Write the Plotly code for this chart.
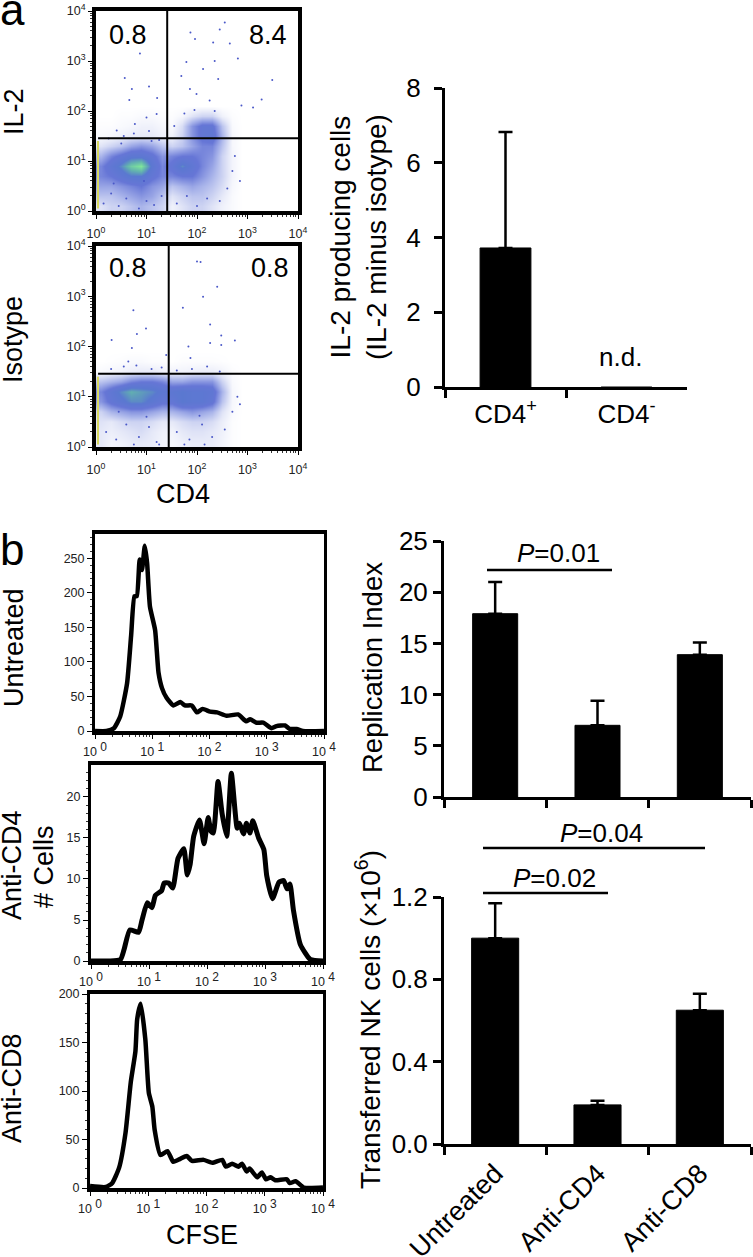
import plotly.graph_objects as go

W, H = 753, 1257
FONT = "Liberation Sans"

grid_x = [0.1, 0.3, 0.5, 0.7, 0.9, 1.1, 1.3, 1.5, 1.7, 1.9, 2.1, 2.3, 2.5, 2.7, 2.9, 3.1]
grid_y = [0.1, 0.3, 0.5, 0.7, 0.9, 1.1, 1.3, 1.5, 1.7, 1.9, 2.1]

il2_density = [
    [1.0, 1.5, 1.5, 2.0, 2.5, 2.0, 1.5, 0.5, 1.0, 1.5, 1.5, 1.0, 0.5, 0.2, 0, 0],
    [2.0, 2.0, 2.5, 3.0, 3.5, 3.0, 2.0, 1.0, 1.5, 2.0, 2.0, 1.5, 0.8, 0.2, 0, 0],
    [3.0, 3.0, 3.5, 4.0, 4.5, 3.5, 3.0, 2.0, 2.5, 3.0, 2.5, 2.0, 1.2, 0.3, 0, 0],
    [4.0, 4.5, 5.5, 6.5, 6.5, 5.0, 4.0, 4.0, 4.5, 4.5, 3.5, 2.5, 1.5, 0.4, 0, 0],
    [4.0, 5.5, 7.0, 9.0, 10., 6.0, 4.0, 5.0, 7.0, 5.5, 4.0, 3.0, 1.5, 0.4, 0, 0],
    [2.5, 4.0, 5.0, 6.0, 6.0, 5.0, 3.5, 4.0, 4.5, 4.5, 4.0, 3.5, 1.5, 0.4, 0, 0],
    [1.0, 1.5, 2.0, 3.0, 3.5, 3.0, 2.0, 1.5, 2.0, 3.0, 4.0, 4.0, 2.0, 0.3, 0, 0],
    [0.2, 0.3, 0.5, 0.7, 0.8, 0.8, 0.5, 0.5, 1.5, 3.5, 5.0, 5.5, 2.5, 0.3, 0, 0],
    [0.1, 0.1, 0.2, 0.3, 0.5, 0.5, 0.3, 0.2, 1.2, 3.5, 5.0, 5.0, 2.0, 0.2, 0, 0],
    [0, 0, 0.1, 0.1, 0.2, 0.2, 0.1, 0.1, 0.3, 1.0, 1.5, 1.5, 0.5, 0.1, 0, 0],
    [0, 0, 0, 0, 0, 0, 0, 0, 0, 0, 0, 0, 0, 0, 0, 0],
]
iso_density = [
    [0.8, 0.4, 0.5, 0.7, 0.8, 0.7, 0.4, 0.3, 0.5, 0.7, 0.7, 0.7, 0.4, 0.1, 0, 0],
    [0.8, 0.6, 0.8, 1.0, 1.2, 0.8, 0.5, 0.4, 0.8, 1.0, 1.0, 0.8, 0.5, 0.1, 0, 0],
    [1.0, 0.8, 1.2, 1.5, 1.5, 1.2, 0.8, 0.8, 1.2, 1.5, 1.5, 1.2, 0.6, 0.1, 0, 0],
    [1.5, 2.5, 3.0, 3.5, 3.5, 3.0, 2.5, 2.5, 3.0, 3.5, 3.0, 2.5, 1.0, 0.2, 0, 0],
    [3.5, 5.0, 6.0, 7.0, 7.0, 6.0, 5.0, 5.0, 6.5, 6.0, 6.0, 5.0, 2.0, 0.3, 0, 0],
    [4.0, 5.5, 7.0, 8.0, 7.5, 7.0, 6.0, 6.0, 6.5, 6.0, 6.0, 5.5, 2.5, 0.3, 0, 0],
    [2.0, 2.5, 3.0, 4.0, 4.5, 4.5, 4.0, 3.0, 3.0, 3.5, 3.5, 3.5, 1.5, 0.2, 0, 0],
    [0.2, 0.3, 0.4, 0.6, 0.7, 0.7, 0.5, 0.4, 0.4, 0.5, 0.6, 0.6, 0.4, 0.1, 0, 0],
    [0, 0.05, 0.1, 0.2, 0.2, 0.1, 0.1, 0, 0.1, 0.1, 0.1, 0.1, 0.05, 0, 0, 0],
    [0, 0, 0, 0, 0, 0, 0, 0, 0, 0, 0, 0, 0, 0, 0, 0],
    [0, 0, 0, 0, 0, 0, 0, 0, 0, 0, 0, 0, 0, 0, 0, 0],
]
DENSITY_SCALE = [
    [0, "#ffffff"], [0.08, "#e6e9f8"], [0.25, "#a9b4ea"], [0.45, "#6676d6"],
    [0.65, "#5a78d0"], [0.8, "#62b0b0"], [1, "#7fe69a"],
]

# stray events and cloud fringe, log10 units
il2_stray_x = [0.87, 0.57, 0.71, 1.05, 0.66, 1.21, 1.20, 1.00, 0.77, 0.41, 1.87, 1.96, 2.45, 2.55, 2.65,
               2.32, 1.79, 2.35, 2.81, 1.69, 2.12, 2.42, 3.49, 3.28, 3.11, 1.86, 1.99, 2.25, 2.88,
               0.15, 0.3, 0.45, 0.6, 0.85, 1.0, 1.15, 1.3, 0.25, 0.55, 0.75, 1.05, 1.25, 1.6, 1.8,
               2.0, 2.2, 2.45, 2.6, 2.7, 2.75, 2.85, 1.55, 1.75, 1.95, 2.35, 0.35, 0.95, 0.5, 1.1]
il2_stray_y = [3.15, 2.66, 2.44, 2.49, 2.22, 2.26, 1.94, 1.87, 1.74, 1.61, 3.57, 3.44, 3.63, 3.77, 3.35,
               3.37, 2.98, 3.00, 3.05, 2.70, 2.84, 2.64, 2.62, 2.23, 2.07, 2.44, 2.34, 2.21, 2.11,
               0.15, 0.35, 0.1, 0.25, 0.05, 0.2, 0.12, 0.3, 1.45, 1.5, 1.55, 1.6, 1.42, 0.15, 0.3,
               0.1, 0.25, 0.2, 0.45, 0.8, 1.1, 0.6, 1.7, 1.95, 2.02, 2.0, 0.55, 0.6, 1.35, 1.4]
iso_stray_x = [0.74, 0.99, 0.81, 0.31, 0.71, 1.39, 0.64, 2.00, 2.07, 2.40, 2.12, 1.72, 2.26, 2.48, 2.75,
               2.26, 1.83, 1.87, 2.48,
               0.2, 0.4, 0.6, 0.85, 1.05, 1.2, 1.6, 1.85, 2.1, 2.3, 2.55, 2.7, 2.8, 2.85, 0.3, 0.55,
               0.8, 1.1, 1.3, 1.6, 1.9, 2.2, 2.45, 0.75, 1.25, 1.75, 2.15, 0.45, 1.0, 2.05]
iso_stray_y = [2.72, 2.36, 2.25, 2.13, 1.97, 1.83, 1.70, 3.69, 3.68, 3.19, 2.99, 2.77, 2.44, 2.22, 2.12,
               2.07, 2.00, 1.77, 2.03,
               0.3, 0.15, 0.45, 0.2, 0.4, 0.1, 0.3, 0.15, 0.45, 0.2, 0.35, 0.7, 1.0, 0.85, 1.55, 1.6,
               1.62, 1.55, 1.58, 1.52, 1.55, 1.6, 1.5, 0.05, 0.05, 0.05, 0.05, 0.7, 0.6, 0.62]
edge_x = [0.04, 0.04]
edge_y = [0.05, 1.4]

# CFSE histograms: x in log10 units, y in cell counts
untreated_x = [0, 0.2, 0.33, 0.44, 0.56, 0.63, 0.69, 0.73, 0.78, 0.82, 0.87, 0.91, 0.96, 1.05, 1.11, 1.17,
               1.25, 1.37, 1.49, 1.57, 1.69, 1.78, 1.88, 2.01, 2.13, 2.3, 2.5, 2.64, 2.71, 2.82, 2.94, 3.08,
               3.17, 3.32, 3.4, 3.52, 3.63, 4]
untreated_y = [0, 0, 4, 21, 69, 137, 195, 195, 248, 233, 268, 243, 180, 146, 84, 62,
               48, 37, 42, 37, 37, 27, 32, 28, 27, 22, 24, 14, 17, 12, 12, 4,
               7, 8, 3, 3, 0, 0]
anti_cd4_x = [0, 0.33, 0.51, 0.57, 0.67, 0.82, 0.88, 0.97, 1.05, 1.11, 1.22, 1.26, 1.34, 1.41, 1.5, 1.6,
              1.66, 1.71, 1.77, 1.87, 1.95, 2.02, 2.07, 2.11, 2.19, 2.26, 2.34, 2.42, 2.52, 2.56, 2.63,
              2.68, 2.74, 2.79, 2.89, 2.98, 3.03, 3.13, 3.24, 3.32, 3.38, 3.43, 3.49, 3.61, 3.78, 4]
anti_cd4_y = [0, 0, 0.2, 1.4, 3.8, 3.5, 5, 7.1, 6.5, 8, 8.6, 9.5, 9.5, 8.9, 12.5, 13.7,
              10.5, 11.8, 15.2, 17.2, 14.3, 17.5, 15.8, 15.6, 21.9, 18, 15.2, 22.9, 16.2, 16.8, 15.5,
              16.8, 15.6, 17.1, 15, 13.6, 10.4, 7.6, 9.6, 9.8, 8.8, 9.4, 6.2, 2, 0.2, 0]
anti_cd8_x = [0, 0.27, 0.38, 0.5, 0.61, 0.7, 0.78, 0.81, 0.87, 0.95, 1.01, 1.07, 1.11, 1.21, 1.33, 1.43,
              1.55, 1.66, 1.75, 1.95, 2.1, 2.27, 2.33, 2.44, 2.55, 2.61, 2.69, 2.74, 2.87, 2.95, 3.02,
              3.1, 3.18, 3.38, 3.43, 3.53, 3.67, 4]
anti_cd8_y = [2, 1, 5, 21, 57, 109, 141, 174, 190, 153, 98, 84, 60, 34, 38, 27,
              30, 33, 28, 29, 26, 29, 22, 25, 22, 25, 17, 20, 11, 16, 9,
              11, 8, 9, 5, 7, 0.5, 0.5]

# Bar charts
il2_groups = ["CD4<sup>+</sup>", "CD4<sup>-</sup>"]
il2_values = [3.72, -0.08]
il2_errors = [3.1, 0]
treatments = ["Untreated", "Anti-CD4", "Anti-CD8"]
replication_values = [17.9, 7.0, 13.9]
replication_errors = [3.1, 2.4, 1.2]
transferred_values = [1.0, 0.19, 0.65]
transferred_errors = [0.17, 0.02, 0.08]

decade_exps = [0, 1, 2, 3, 4]
decade_ticks = [10 ** e for e in decade_exps]


def dom_x(left, right):
    return [left / W, right / W]


def dom_y(top, bottom):
    return [1 - bottom / H, 1 - top / H]


def decade_axis(domain, anchor, labels, standoff=0):
    return dict(
        domain=domain, anchor=anchor, type="log", range=[0, 4], automargin=False,
        tickmode="array", tickvals=decade_ticks, ticktext=labels, ticklabelstandoff=standoff,
        ticks="outside", ticklen=4, tickwidth=1, tickcolor="black",
        minor=dict(ticks="outside", ticklen=2, tickwidth=1, tickcolor="#333", dtick="D1"),
        showline=True, linewidth=4, linecolor="black", mirror=True,
        showgrid=False, zeroline=False, tickfont=dict(size=12.5, color="#222"),
    )


def count_axis(domain, anchor, top, dtick):
    return dict(
        domain=domain, anchor=anchor, range=[0, top], dtick=dtick, automargin=False,
        ticks="outside", ticklen=5, tickwidth=1, tickcolor="black",
        minor=dict(ticks="outside", ticklen=2, tickwidth=1, tickcolor="#333"),
        showline=True, linewidth=3, linecolor="black", mirror=True,
        showgrid=False, zeroline=False, tickfont=dict(size=12.5, color="#222"),
    )


def bar_x_axis(domain, anchor, show_labels):
    return dict(
        domain=domain, anchor=anchor, type="category", tickson="boundaries", automargin=False,
        ticks="outside", ticklen=8, tickwidth=3, tickcolor="black",
        showline=True, linewidth=3, linecolor="black",
        showgrid=False, zeroline=False, showticklabels=show_labels,
        tickfont=dict(size=26, color="black"),
    )


def bar_y_axis(domain, anchor, top, tickvals, ticktext, standoff=0):
    return dict(
        domain=domain, anchor=anchor, range=[0, top], automargin=False,
        tickvals=tickvals, ticktext=ticktext, ticklabelstandoff=standoff,
        ticks="outside", ticklen=8, tickwidth=3, tickcolor="black",
        showline=True, linewidth=3, linecolor="black",
        showgrid=False, zeroline=False, tickfont=dict(size=26, color="black"),
    )


def bar_trace(names, values, errors, axis, gap):
    return go.Bar(
        x=names, y=values, xaxis="x" + axis, yaxis="y" + axis,
        marker=dict(color="black", line=dict(color="black", width=1)),
        width=gap, cliponaxis=False,
        error_y=dict(type="data", symmetric=False, array=errors, arrayminus=[0] * len(errors),
                     color="black", thickness=2.5, width=7),
    )


fig = go.Figure()

# a: flow plots
for axis, density, stray_x, stray_y in [
    ("", il2_density, il2_stray_x, il2_stray_y),
    ("2", iso_density, iso_stray_x, iso_stray_y),
]:
    fig.add_trace(go.Heatmap(
        x=[10 ** v for v in grid_x], y=[10 ** v for v in grid_y], z=density,
        xaxis="x" + axis, yaxis="y" + axis, zmin=0, zmax=10, zsmooth="best",
        colorscale=DENSITY_SCALE, showscale=False, hoverinfo="skip",
    ))
    fig.add_trace(go.Scatter(
        x=[10 ** v for v in stray_x], y=[10 ** v for v in stray_y],
        xaxis="x" + axis, yaxis="y" + axis, mode="markers",
        marker=dict(size=2, color="#4a58c8"), hoverinfo="skip",
    ))
    fig.add_trace(go.Scatter(
        x=[10 ** v for v in edge_x], y=[10 ** v for v in edge_y],
        xaxis="x" + axis, yaxis="y" + axis, mode="lines",
        line=dict(color="#d8d860", width=2), hoverinfo="skip",
    ))

# b: histograms
for axis, xs, ys, lw in [
    ("3", untreated_x, untreated_y, 4.5),
    ("4", anti_cd4_x, anti_cd4_y, 5),
    ("5", anti_cd8_x, anti_cd8_y, 4.5),
]:
    fig.add_trace(go.Scatter(
        x=[10 ** v for v in xs], y=ys, xaxis="x" + axis, yaxis="y" + axis, mode="lines",
        line=dict(color="black", width=lw, shape="spline", smoothing=0.5), cliponaxis=True,
    ))

# bars
fig.add_trace(bar_trace(il2_groups, il2_values, il2_errors, "6", 0.42))
fig.add_trace(bar_trace(treatments, replication_values, replication_errors, "7", 0.44))
fig.add_trace(bar_trace(treatments, transferred_values, transferred_errors, "8", 0.46))

sup_labels = [f"10<sup>{e}</sup>" for e in decade_exps]
spaced_labels = [f"10 <sup><span style='font-size:12px'>{e}</span></sup>" for e in decade_exps]

fig.update_layout(
    width=W, height=H, autosize=False, margin=dict(l=0, r=0, t=0, b=0),
    paper_bgcolor="white", plot_bgcolor="white", showlegend=False,
    font=dict(family=FONT, color="black"),
    xaxis=decade_axis(dom_x(96, 298), "y", sup_labels, 4),
    yaxis=decade_axis(dom_y(11, 211), "x", sup_labels),
    xaxis2=decade_axis(dom_x(96, 298), "y2", sup_labels, 4),
    yaxis2=decade_axis(dom_y(246, 447), "x2", sup_labels),
    xaxis3=decade_axis(dom_x(95, 324), "y3", spaced_labels, 2),
    yaxis3=count_axis(dom_y(534, 731), "x3", 285, 50),
    xaxis4=decade_axis(dom_x(91, 323), "y4", spaced_labels, 2),
    yaxis4=count_axis(dom_y(765, 961), "x4", 23.9, 5),
    xaxis5=decade_axis(dom_x(90, 323), "y5", spaced_labels, 2),
    yaxis5=count_axis(dom_y(994, 1188), "x5", 200, 50),
    xaxis6=bar_x_axis(dom_x(445, 687), "y6", True),
    yaxis6=bar_y_axis(dom_y(88, 387), "x6", 8, [0, 2, 4, 6, 8], ["0", "2", "4", "6", "8"], 8),
    xaxis7=bar_x_axis(dom_x(444, 751), "y7", False),
    yaxis7=bar_y_axis(dom_y(541, 797), "x7", 25, [0, 5, 10, 15, 20, 25], ["0", "5", "10", "15", "20", "25"]),
    xaxis8=bar_x_axis(dom_x(444, 751), "y8", True),
    yaxis8=bar_y_axis(dom_y(897, 1144), "x8", 1.2, [0, 0.4, 0.8, 1.2], ["0.0", "0.4", "0.8", "1.2"]),
)
fig.update_layout(
    xaxis6=dict(ticklabelstandoff=2),
    xaxis8=dict(tickangle=-45, tickfont=dict(size=27)),
)

# quadrant gates
for xref, yref, vx, hy in [("x", "y", 10 ** 1.41, 10 ** 1.455), ("x2", "y2", 10 ** 1.44, 10 ** 1.46)]:
    fig.add_shape(type="line", xref=xref, yref=yref, x0=vx, x1=vx, y0=1, y1=10000,
                  line=dict(color="black", width=2))
    fig.add_shape(type="line", xref=xref, yref=yref, x0=1.1, x1=10000, y0=hy, y1=hy,
                  line=dict(color="black", width=2))

# significance brackets
for x0, x1, y in [(487, 612, 570), (483, 705, 848), (483, 608, 893)]:
    fig.add_shape(type="line", xref="paper", yref="paper", x0=x0 / W, x1=x1 / W,
                  y0=1 - y / H, y1=1 - y / H, line=dict(color="black", width=2.5))


def label(text, x, y, size, angle=0):
    fig.add_annotation(
        text=text, xref="paper", yref="paper", x=x / W, y=1 - y / H,
        xanchor="center", yanchor="middle", showarrow=False, textangle=angle,
        font=dict(family=FONT, size=size, color="black"),
    )


label("a", 12, 9, 44)
label("b", 12, 549, 44)
label("0.8", 128, 35, 27)
label("8.4", 268, 35, 27)
label("0.8", 128, 268, 27)
label("0.8", 270, 268, 27)
label("IL-2", 14, 112, 27, -90)
label("Isotype", 13, 340, 27, -90)
label("CD4", 183, 494, 27)
label("Untreated", 14, 648, 27, -90)
label("Anti-CD4", 12, 865, 27, -90)
label("# Cells", 44, 867, 27, -90)
label("Anti-CD8", 12, 1088, 27, -90)
label("CFSE", 202, 1235, 27)
label("IL-2 producing cells<br>(IL-2 minus isotype)", 358, 237, 28, -90)
label("n.d.", 620, 357, 26)
label("<i>P</i>=0.01", 558, 553, 26)
label("<i>P</i>=0.04", 601, 833, 26)
label("<i>P</i>=0.02", 554, 878, 26)
label("Replication Index", 372, 668, 27.5, -90)
label("Transferred NK cells (×10<sup>6</sup>)", 368, 1020, 28, -90)

fig.write_html("out.html", config=dict(displayModeBar=False),
               post_script="document.body.style.margin='0'")
